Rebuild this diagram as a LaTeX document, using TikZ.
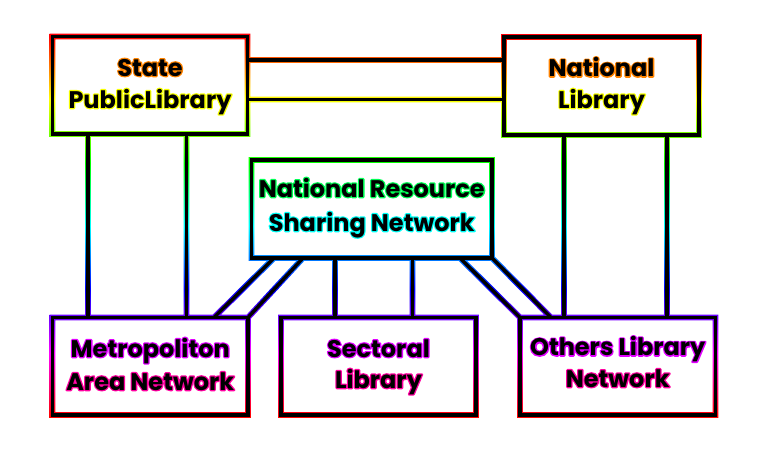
\documentclass[tikz,border=0pt]{standalone}
\usepackage{fontspec}
\setmainfont{Poppins}
\usetikzlibrary{calc,backgrounds}
\pgfdeclareverticalshading{rainbow}{100bp}{rgb(0bp)=(1,0.58,0); rgb(25bp)=(1,0.58,0); rgb(29.08bp)=(1,0,0); rgb(32.61bp)=(1,0,0.5); rgb(36.04bp)=(1,0,1); rgb(39.57bp)=(0.5,0,1); rgb(43.10bp)=(0,0,1); rgb(46.52bp)=(0,0.5,1); rgb(50.05bp)=(0,1,1); rgb(53.59bp)=(0,1,0.5); rgb(57.01bp)=(0,1,0); rgb(60.54bp)=(0.5,1,0); rgb(64.07bp)=(1,1,0); rgb(67.49bp)=(1,0.5,0); rgb(71.03bp)=(1,0,0); rgb(75bp)=(1,0,0.57); rgb(100bp)=(1,0,0.57)}
\definecolor{hA}{Hsb}{31,1,1}
\definecolor{hB}{Hsb}{62,1,1}
\definecolor{hC}{Hsb}{140,1,1}
\definecolor{hD}{Hsb}{178,1,1}
\definecolor{hE}{Hsb}{293,1,1}
\definecolor{hF}{Hsb}{322,1,1}
% coloured outline drawn by stroking the glyphs, black glyphs on top
\newcommand\gl[2]{\rlap{\color{#1}\special{pdf:literal direct 1 Tr 2.5 w 1 j}#2\special{pdf:literal direct 0 Tr}}#2}
\def\gw{2.9pt}
\def\gv{2.9}
% glow outline of a straight connector (clockwise in canvas)
\newcommand\lseg[2]{($(#1)!\gw!90:(#2)$) -- ($(#2)!\gw!-90:(#1)$) -- ($(#2)!\gw!90:(#1)$) -- ($(#1)!\gw!-90:(#2)$) -- cycle}
% glow outline of a box: outer ring clockwise, inner ring counter-clockwise
\newcommand\bseg[1]{($(#1.north west)+(-\gv,-\gv)$) -- ($(#1.north east)+(\gv,-\gv)$) -- ($(#1.south east)+(\gv,\gv)$) -- ($(#1.south west)+(-\gv,\gv)$) -- cycle
  ($(#1.north west)+(\gv,\gv)$) -- ($(#1.south west)+(\gv,-\gv)$) -- ($(#1.south east)+(-\gv,-\gv)$) -- ($(#1.north east)+(-\gv,\gv)$) -- cycle}
\begin{document}
\begin{tikzpicture}[x=1pt,y=-1pt,
  box/.style={draw, line width=3.4pt, outer sep=0pt, inner sep=0pt, rectangle},
  wire/.style={line width=3.4pt},
  lbl/.style={anchor=base, inner sep=0pt, font=\fontsize{24}{27}\selectfont\bfseries}]
\useasboundingbox (0,0) rectangle (768,453);
% boxes
\node[box, minimum width=195pt, minimum height=97.5pt] (state) at (150,85.25) {};
\node[box, minimum width=195pt, minimum height=98pt] (natlib) at (601.5,86) {};
\node[box, minimum width=240.5pt, minimum height=98pt] (nrsn) at (371.75,209) {};
\node[box, minimum width=195.5pt, minimum height=97.5pt] (metro) at (150.25,366.25) {};
\node[box, minimum width=195pt, minimum height=97.5pt] (sect) at (378.5,366.25) {};
\node[box, minimum width=195.5pt, minimum height=97.5pt] (others) at (617.75,366.25) {};
% connector end points on the boxes
\coordinate (h1) at (0,60);
\coordinate (h2) at (0,99.5);
\coordinate (a1) at (state.east|-h1);   \coordinate (b1) at (natlib.west|-h1);
\coordinate (a2) at (state.east|-h2);   \coordinate (b2) at (natlib.west|-h2);
\coordinate (a3) at (state.south-|88,0);   \coordinate (b3) at (metro.north-|88,0);
\coordinate (a4) at (state.south-|186.5,0); \coordinate (b4) at (metro.north-|186.5,0);
\coordinate (a5) at (natlib.south-|564,0); \coordinate (b5) at (others.north-|564,0);
\coordinate (a6) at (natlib.south-|667,0); \coordinate (b6) at (others.north-|667,0);
\coordinate (a7) at (nrsn.south-|335,0);   \coordinate (b7) at (sect.north-|335,0);
\coordinate (a8) at (nrsn.south-|412.5,0); \coordinate (b8) at (sect.north-|412.5,0);
\coordinate (a9) at (nrsn.south-|274,0);   \coordinate (b9) at (metro.north-|214,0);
\coordinate (a10) at (nrsn.south-|303,0);  \coordinate (b10) at (metro.north east);
\coordinate (a11) at (nrsn.south-|460,0);  \coordinate (b11) at (others.north west);
\coordinate (a12) at (nrsn.south east);    \coordinate (b12) at (others.north-|551,0);
% connectors
\foreach \i in {1,...,12}{\draw[wire] (a\i) -- (b\i);}
% rainbow glow round every stroke
\begin{scope}[on background layer]
  \fill[white] (0,0) rectangle (768,453);
  \clip \bseg{state} \bseg{natlib} \bseg{nrsn} \bseg{metro} \bseg{sect} \bseg{others}
    \lseg{a1}{b1} \lseg{a2}{b2} \lseg{a3}{b3} \lseg{a4}{b4} \lseg{a5}{b5} \lseg{a6}{b6}
    \lseg{a7}{b7} \lseg{a8}{b8} \lseg{a9}{b9} \lseg{a10}{b10} \lseg{a11}{b11} \lseg{a12}{b12};
  \shade[shading=rainbow] (0,0) rectangle (768,453);
\end{scope}
% labels
\node[lbl] (s1) at (150,76) {\gl{hA}{State}};
\node[lbl] (s2) at (150,108) {\gl{hB}{PublicLibrary}};
\node[lbl] (n1) at (601.5,76.5) {\gl{hA}{National}};
\node[lbl] (n2) at (601.5,108) {\gl{hB}{Library}};
\node[lbl] (r1) at (371.75,197) {\gl{hC}{National Resource}};
\node[lbl] (r2) at (371.75,231) {\gl{hD}{Sharing Network}};
\node[lbl] (m1) at (150.25,357) {\gl{hE}{Metropoliton}};
\node[lbl] (m2) at (150.25,390) {\gl{hF}{Area Network}};
\node[lbl] (c1) at (378.5,357) {\gl{hE}{Sectoral}};
\node[lbl] (c2) at (378.5,388) {\gl{hF}{Library}};
\node[lbl] (o1) at (617.75,355.5) {\gl{hE}{Others Library}};
\node[lbl] (o2) at (617.75,387) {\gl{hF}{Network}};
\end{tikzpicture}
\end{document}
